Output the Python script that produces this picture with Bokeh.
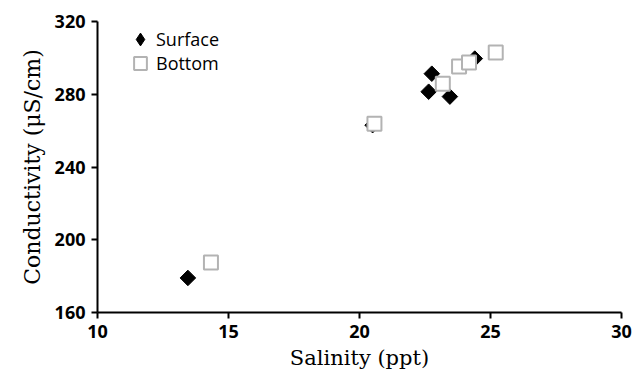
import math
from bokeh.plotting import figure
from bokeh.models import Range1d, FixedTicker, Legend, LegendItem
from bokeh.embed import file_html
from bokeh.resources import INLINE

# Data
surface_salinity = [13.45, 20.5, 22.64, 22.76, 23.45, 24.4]
surface_conductivity = [179.0, 263.0, 281.4, 291.3, 278.7, 299.6]
bottom_salinity = [14.33, 20.57, 23.18, 23.8, 24.18, 25.2]
bottom_conductivity = [187.5, 263.8, 285.8, 295.2, 297.4, 302.9]

series_names = ["Surface", "Bottom"]
x_ticks = [10, 15, 20, 25, 30]
y_ticks = [160, 200, 240, 280, 320]
x_title = "Salinity (ppt)"
y_title = "Conductivity (μS/cm)"

p = figure(width=633, height=379, output_backend="svg", toolbar_location=None,
           x_range=Range1d(10, 30), y_range=Range1d(160, 320),
           min_border_left=97, min_border_right=12, min_border_top=21, min_border_bottom=67)
p.outline_line_color = None
p.grid.visible = False
p.background_fill_color = "white"
p.border_fill_color = "white"

for ax in (p.xaxis[0], p.yaxis[0]):
    ax.axis_line_color = "black"
    ax.axis_line_width = 2
    ax.major_tick_line_color = "black"
    ax.major_tick_line_width = 2
    ax.major_tick_out = 6
    ax.major_tick_in = 0
    ax.minor_tick_line_color = None
    ax.major_label_text_font = "Open Sans"
    ax.major_label_text_font_size = "18px"
    ax.major_label_text_font_style = "bold"
    ax.major_label_text_color = "black"
    ax.axis_label_text_font = "DejaVu Serif"
    ax.axis_label_text_font_style = "normal"
    ax.axis_label_text_color = "black"

p.xaxis[0].axis_label_text_font_size = "21px"
p.yaxis[0].axis_label_text_font_size = "22px"
p.xaxis[0].ticker = FixedTicker(ticks=x_ticks)
p.yaxis[0].ticker = FixedTicker(ticks=y_ticks)
p.xaxis[0].axis_label = x_title
p.yaxis[0].axis_label = y_title
p.xaxis[0].major_label_standoff = 6
p.yaxis[0].major_label_standoff = 6
p.xaxis[0].axis_label_standoff = 5
p.yaxis[0].axis_label_standoff = 7

# legend key for the diamond symbol (legend glyphs are never rotated); not drawn in the plot
r_key = p.scatter(surface_salinity, surface_conductivity, marker="diamond",
                  fill_color="black", line_color="black", visible=False)
r_surf = p.scatter(surface_salinity, surface_conductivity, marker="square", size=11,
                   angle=math.pi / 4, fill_color="black", line_color="black", line_width=1)
r_bot = p.scatter(bottom_salinity, bottom_conductivity, marker="square", size=14,
                  fill_color="white", line_color="#b3b3b3", line_width=2)

common = dict(padding=0, margin=0, spacing=0, glyph_width=32, glyph_height=32,
              label_standoff=0, label_text_font="Open Sans", label_text_font_size="18px",
              label_text_color="black", border_line_color=None, background_fill_alpha=0)
legend_a = Legend(items=[LegendItem(label=series_names[0], renderers=[r_key])],
                  location=(27, 257), **common)
legend_b = Legend(items=[LegendItem(label=series_names[1], renderers=[r_bot])],
                  location=(27, 233), **common)
p.add_layout(legend_a)
p.add_layout(legend_b)

open("out.html", "w").write(file_html(p, INLINE))
